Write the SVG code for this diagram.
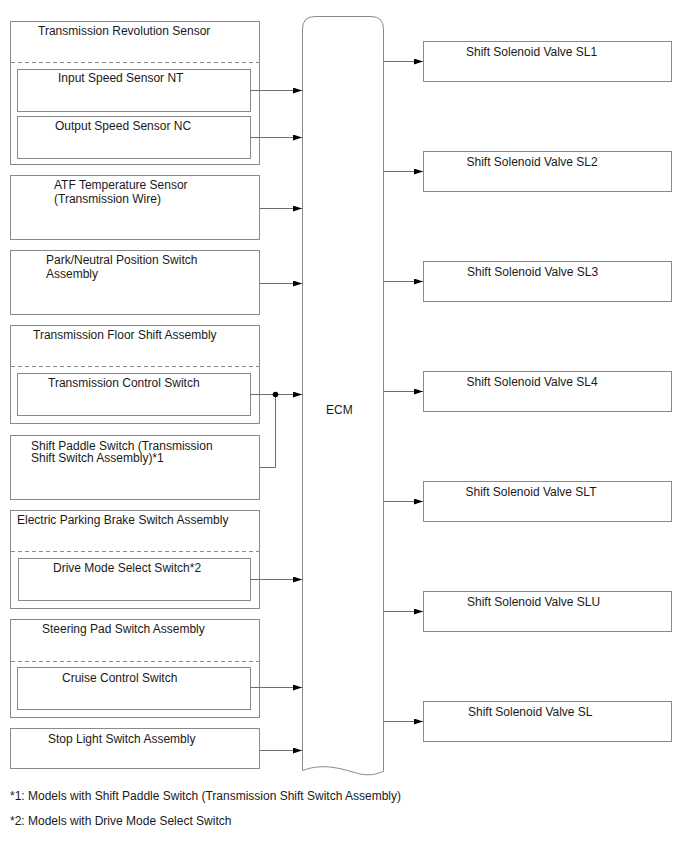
<svg xmlns="http://www.w3.org/2000/svg" width="688" height="852" viewBox="0 0 688 852">
<defs>
<style>
.box{fill:#fff;stroke:#8a8a8a;stroke-width:1}
.dash{stroke:#8a8a8a;stroke-width:1;stroke-dasharray:4,3;fill:none}
.ln{stroke:#6e6e6e;stroke-width:1;fill:none}
.t{font-family:"Liberation Sans",Arial,sans-serif;font-size:12px;fill:#1a1a1a}
</style>
<marker id="ah" markerWidth="10" markerHeight="6" refX="9" refY="3" orient="auto" markerUnits="userSpaceOnUse">
<path d="M0,0 L9,3 L0,6 Z" fill="#000"/>
</marker>
</defs>
<rect width="688" height="852" fill="#fff"/>

<g id="trs">
<rect class="box" x="10.5" y="21.5" width="249" height="143"/>
<line class="dash" x1="11" y1="62.5" x2="259" y2="62.5"/>
<text class="t" x="38" y="35">Transmission Revolution Sensor</text>
</g>
<g id="nt">
<rect class="box" x="17.5" y="69.5" width="233" height="42"/>
<text class="t" x="58" y="82">Input Speed Sensor NT</text>
</g>
<g id="nc">
<rect class="box" x="17.5" y="116.5" width="233" height="42"/>
<text class="t" x="55" y="130">Output Speed Sensor NC</text>
</g>
<g id="atf">
<rect class="box" x="10.5" y="175.5" width="249" height="64"/>
<text class="t" x="54" y="189">ATF Temperature Sensor</text>
<text class="t" x="54" y="202.5">(Transmission Wire)</text>
</g>
<g id="pnp">
<rect class="box" x="10.5" y="250.5" width="249" height="64"/>
<text class="t" x="46" y="264">Park/Neutral Position Switch</text>
<text class="t" x="46" y="278">Assembly</text>
</g>
<g id="tfs">
<rect class="box" x="10.5" y="325.5" width="249" height="98"/>
<line class="dash" x1="11" y1="366.5" x2="259" y2="366.5"/>
<text class="t" x="33" y="338.5">Transmission Floor Shift Assembly</text>
</g>
<g id="tcs">
<rect class="box" x="17.5" y="373.5" width="233" height="42"/>
<text class="t" x="48" y="387">Transmission Control Switch</text>
</g>
<g id="paddle">
<rect class="box" x="10.5" y="435.5" width="249" height="64"/>
<text class="t" x="31" y="449.5">Shift Paddle Switch (Transmission</text>
<text class="t" x="31" y="462">Shift Switch Assembly)*1</text>
</g>
<g id="epb">
<rect class="box" x="10.5" y="510.5" width="249" height="98"/>
<line class="dash" x1="11" y1="551.5" x2="259" y2="551.5"/>
<text class="t" x="17" y="524">Electric Parking Brake Switch Assembly</text>
</g>
<g id="dms">
<rect class="box" x="18.5" y="558.5" width="232" height="42"/>
<text class="t" x="53" y="572">Drive Mode Select Switch*2</text>
</g>
<g id="sps">
<rect class="box" x="10.5" y="619.5" width="249" height="98"/>
<line class="dash" x1="11" y1="661.5" x2="259" y2="661.5"/>
<text class="t" x="42" y="633">Steering Pad Switch Assembly</text>
</g>
<g id="ccs">
<rect class="box" x="17.5" y="667.5" width="233" height="42"/>
<text class="t" x="62" y="682">Cruise Control Switch</text>
</g>
<g id="stop">
<rect class="box" x="10.5" y="728.5" width="249" height="40"/>
<text class="t" x="48" y="742.5">Stop Light Switch Assembly</text>
</g>

<g id="ecm">
<path class="box" d="M302.5,770.5 L302.5,29 Q302.5,16.5 315,16.5 L371,16.5 Q383.5,16.5 383.5,29 L383.5,771.5 C376,774 370,776 360,774 C345,770 325,762 302.5,770.5 Z"/>
<text class="t" x="326" y="414">ECM</text>
</g>

<g id="sl1"><rect class="box" x="423.5" y="41.5" width="248" height="40"/><text class="t" x="466" y="55.5">Shift Solenoid Valve SL1</text></g>
<g id="sl2"><rect class="box" x="423.5" y="151.5" width="248" height="40"/><text class="t" x="466.5" y="165.5">Shift Solenoid Valve SL2</text></g>
<g id="sl3"><rect class="box" x="423.5" y="261.5" width="248" height="40"/><text class="t" x="467" y="275.5">Shift Solenoid Valve SL3</text></g>
<g id="sl4"><rect class="box" x="423.5" y="371.5" width="248" height="40"/><text class="t" x="466.5" y="385.5">Shift Solenoid Valve SL4</text></g>
<g id="slt"><rect class="box" x="423.5" y="481.5" width="248" height="40"/><text class="t" x="465.5" y="495.5">Shift Solenoid Valve SLT</text></g>
<g id="slu"><rect class="box" x="423.5" y="591.5" width="248" height="40"/><text class="t" x="467" y="605.5">Shift Solenoid Valve SLU</text></g>
<g id="sl"><rect class="box" x="423.5" y="701.5" width="248" height="40"/><text class="t" x="468" y="715.5">Shift Solenoid Valve SL</text></g>

<g id="connectors">
<line class="ln" x1="250.5" y1="90.5" x2="302" y2="90.5" marker-end="url(#ah)"/>
<line class="ln" x1="250.5" y1="137.5" x2="302" y2="137.5" marker-end="url(#ah)"/>
<line class="ln" x1="259.5" y1="208.5" x2="302" y2="208.5" marker-end="url(#ah)"/>
<line class="ln" x1="259.5" y1="283.5" x2="302" y2="283.5" marker-end="url(#ah)"/>
<line class="ln" x1="250.5" y1="394.5" x2="302" y2="394.5" marker-end="url(#ah)"/>
<polyline class="ln" points="259.5,467.5 275.5,467.5 275.5,394.5"/>
<circle cx="275.5" cy="394.5" r="2.8" fill="#000"/>
<line class="ln" x1="250.5" y1="579.5" x2="302" y2="579.5" marker-end="url(#ah)"/>
<line class="ln" x1="250.5" y1="687.5" x2="302" y2="687.5" marker-end="url(#ah)"/>
<line class="ln" x1="259.5" y1="750.5" x2="302" y2="750.5" marker-end="url(#ah)"/>
<line class="ln" x1="383.5" y1="61.5" x2="423" y2="61.5" marker-end="url(#ah)"/>
<line class="ln" x1="383.5" y1="171.5" x2="423" y2="171.5" marker-end="url(#ah)"/>
<line class="ln" x1="383.5" y1="281.5" x2="423" y2="281.5" marker-end="url(#ah)"/>
<line class="ln" x1="383.5" y1="391.5" x2="423" y2="391.5" marker-end="url(#ah)"/>
<line class="ln" x1="383.5" y1="501.5" x2="423" y2="501.5" marker-end="url(#ah)"/>
<line class="ln" x1="383.5" y1="611.5" x2="423" y2="611.5" marker-end="url(#ah)"/>
<line class="ln" x1="383.5" y1="721.5" x2="423" y2="721.5" marker-end="url(#ah)"/>
</g>

<text class="t" x="10" y="800">*1: Models with Shift Paddle Switch (Transmission Shift Switch Assembly)</text>
<text class="t" x="10" y="825">*2: Models with Drive Mode Select Switch</text>
</svg>
